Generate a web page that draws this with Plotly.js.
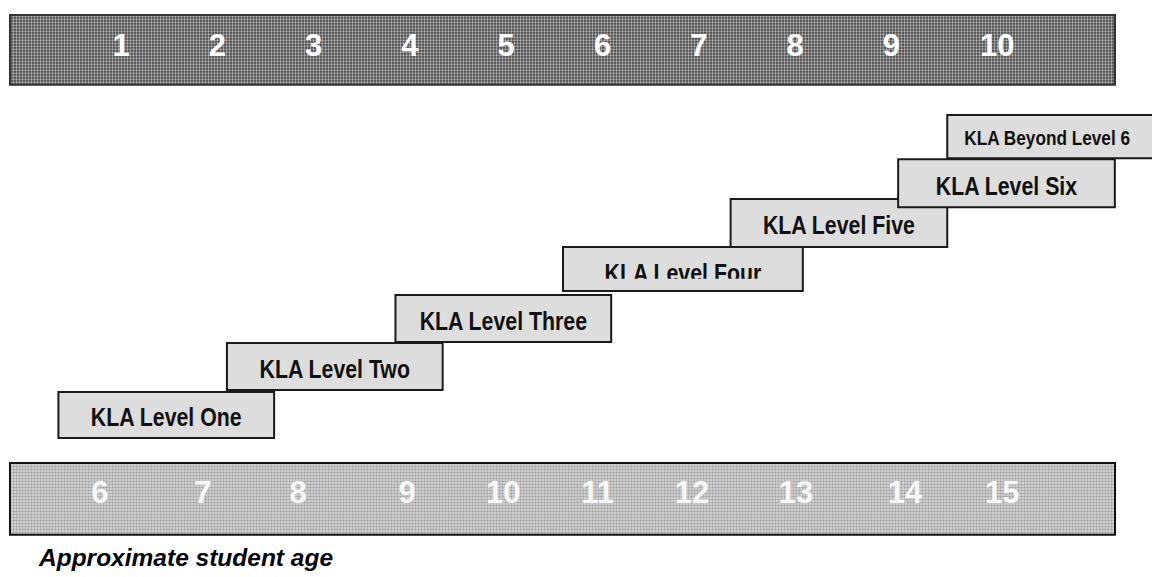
<!DOCTYPE html>
<html>
<head>
<meta charset="utf-8">
<script src="https://cdn.plot.ly/plotly-3.0.1.min.js"></script>
<style>
  html, body { margin: 0; padding: 0; background: #ffffff; }
  #chart { width: 1152px; height: 577px; }
</style>
</head>
<body>
<div id="chart"></div>
<script>
// ---- data (x axis = school year scale, y axis = level row) ----
const years = ['1', '2', '3', '4', '5', '6', '7', '8', '9', '10'];
const yearPos = [1, 2, 3, 4, 5, 6, 7, 8, 9, 10.1];
const ages = ['6', '7', '8', '9', '10', '11', '12', '13', '14', '15'];
const agePos = [0.78, 1.85, 2.84, 3.97, 4.97, 5.95, 6.93, 8.01, 9.14, 10.15];
const levels = ['KLA Level One', 'KLA Level Two', 'KLA Level Three', 'KLA Level Four',
                'KLA Level Five', 'KLA Level Six', 'KLA Beyond Level 6'];
const levelStart = [0.35, 2.10, 3.85, 5.59, 7.33, 9.07, 9.58];
const levelEnd   = [2.59, 4.34, 6.09, 8.08, 9.58, 11.32, 11.9];
const levelRow   = [1.00, 2.00, 2.99, 4.01, 4.96, 5.78, 6.74];
const bandStart = -0.153, bandEnd = 11.322;
const yearBandRow = 8.53, ageBandRow = -0.73;
const ageTitle = 'Approximate student age';

// ---- style ----
const xRange = [-0.2565, 11.706];
const levelHeight = [0.95, 0.97, 0.97, 0.91, 0.99, 0.99, 0.89];
const levelFont = [26, 26, 26, 26, 26, 26, 21];
const levelTextShift = [-0.1, -0.1, -0.1, -0.13, -0.1, -0.1, -0.06];
const bandHeight = [1.44, 1.48];
const sans = 'Liberation Sans, Arial, sans-serif';
const narrowScale = 0.82;   // Arial-Narrow-like horizontal condensing of box labels

const traces = [];

// bands (year band on top, age band at bottom)
traces.push({
  type: 'bar', orientation: 'h',
  y: [yearBandRow], base: [bandStart], x: [bandEnd - bandStart], width: [bandHeight[0]],
  marker: {
    color: '#444444',
    line: { color: '#333333', width: 2 },
    pattern: { shape: '.', bgcolor: '#464646', fgcolor: '#b8b8b8', size: 3, solidity: 0.45 }
  },
  hoverinfo: 'skip'
});
traces.push({
  type: 'bar', orientation: 'h',
  y: [ageBandRow], base: [bandStart], x: [bandEnd - bandStart], width: [bandHeight[1]],
  marker: {
    color: '#bdbdbd',
    line: { color: '#111111', width: 2 },
    pattern: { shape: '.', bgcolor: '#d2d2d2', fgcolor: '#9c9c9c', size: 3, solidity: 0.4 }
  },
  hoverinfo: 'skip'
});

// level boxes
traces.push({
  type: 'bar', orientation: 'h',
  y: levelRow, base: levelStart,
  x: levelEnd.map((e, i) => e - levelStart[i]),
  width: levelHeight,
  marker: { color: '#dddddd', line: { color: '#1a1a1a', width: 2 } },
  hoverinfo: 'skip'
});

// level labels
traces.push({
  type: 'scatter', mode: 'text', name: 'levelLabels',
  x: levelStart.map((s, i) => (s + Math.min(levelEnd[i], xRange[1] - 0.05)) / 2),
  y: levelRow.map((r, i) => r + levelTextShift[i]),
  text: levels,
  textposition: 'middle center',
  textfont: { family: sans, size: levelFont, color: '#111111', weight: 'bold' },
  hoverinfo: 'skip', cliponaxis: false
});

// year labels
traces.push({
  type: 'scatter', mode: 'text',
  x: yearPos, y: years.map(() => yearBandRow + 0.04),
  text: years, textposition: 'middle center',
  textfont: { family: sans, size: 31, color: '#ffffff', weight: 'bold' },
  hoverinfo: 'skip'
});

// age labels
traces.push({
  type: 'scatter', mode: 'text',
  x: agePos, y: ages.map(() => ageBandRow + 0.08),
  text: ages, textposition: 'middle center',
  textfont: { family: sans, size: 31, color: '#f7f7f7', weight: 'bold' },
  hoverinfo: 'skip'
});

// reproduce the clipped bottom of the "Level Four" label
const clipIdx = 3;
const shapes = [{
  type: 'rect', xref: 'x', yref: 'y', layer: 'above',
  x0: levelStart[clipIdx] + 0.03, x1: levelEnd[clipIdx] - 0.03,
  y0: levelRow[clipIdx] - levelHeight[clipIdx] / 2 + 0.03,
  y1: levelRow[clipIdx] - 0.2,
  fillcolor: '#dddddd', line: { width: 0 }
}];

const layout = {
  width: 1152, height: 577,
  margin: { l: 0, r: 0, t: 0, b: 0 },
  paper_bgcolor: '#ffffff', plot_bgcolor: '#ffffff',
  showlegend: false, barmode: 'overlay',
  xaxis: { range: xRange, visible: false, fixedrange: true },
  yaxis: { range: [-2.34, 9.557], visible: false, fixedrange: true },
  shapes: shapes,
  annotations: [{
    text: '<b><i>' + ageTitle + '</i></b>',
    xref: 'paper', yref: 'paper', x: 0.031, y: 1 - 557 / 577,
    xanchor: 'left', yanchor: 'middle', showarrow: false,
    font: { family: sans, size: 24.5, color: '#000000' }
  }]
};

Plotly.newPlot('chart', traces, layout, { displayModeBar: false, staticPlot: true }).then(gd => {
  // condense the box labels horizontally around their own anchor (Arial Narrow look)
  const traceGroups = gd.querySelectorAll('.scatterlayer .trace');
  const labelGroup = traceGroups[0];
  if (labelGroup) {
    labelGroup.querySelectorAll('text').forEach(t => {
      const x = parseFloat(t.getAttribute('x')) || 0;
      t.setAttribute('transform', `translate(${x},0) scale(${narrowScale},1) translate(${-x},0)`);
    });
  }
});
</script>
</body>
</html>
